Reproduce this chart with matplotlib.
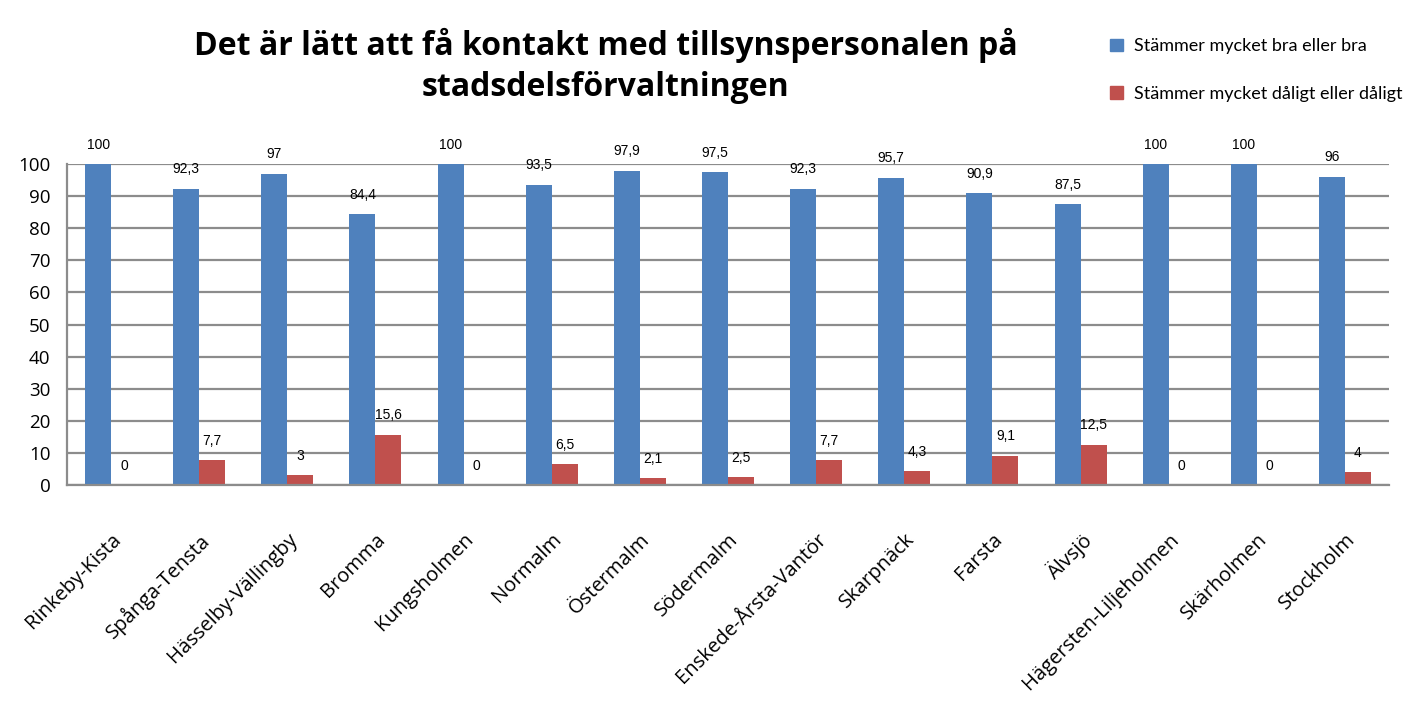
import matplotlib.pyplot as plt
from matplotlib.patches import Patch
import numpy as np

categories = ["Rinkeby-Kista", "Spånga-Tensta", "Hässelby-Vällingby", "Bromma",
              "Kungsholmen", "Normalm", "Östermalm", "Södermalm",
              "Enskede-Årsta-Vantör", "Skarpnäck", "Farsta", "Älvsjö",
              "Hägersten-Liljeholmen", "Skärholmen", "Stockholm"]
bra = [100, 92.3, 97, 84.4, 100, 93.5, 97.9, 97.5, 92.3, 95.7, 90.9, 87.5, 100, 100, 96]
daligt = [0, 7.7, 3, 15.6, 0, 6.5, 2.1, 2.5, 7.7, 4.3, 9.1, 12.5, 0, 0, 4]
series_names = ["Stämmer mycket bra eller bra", "Stämmer mycket dåligt eller dåligt"]

blue = "#4F81BD"
red = "#C0504D"
grey = "#8C8C8C"
label_font = "Open Sans"


def fmt(v):
    return f"{v:g}".replace(".", ",")


fig = plt.figure(figsize=(14.11, 7.11), dpi=100)
ax = fig.add_axes([67 / 1411, 1 - 485 / 711, (1389 - 67) / 1411, (485 - 164) / 711])

x = np.arange(len(categories))
w = 0.295
b1 = ax.bar(x - w / 2, bra, w, color=blue)
b2 = ax.bar(x + w / 2, daligt, w, color=red)

# value labels, comma as decimal sign
for bars, vals in [(b1, bra), (b2, daligt)]:
    for rect, v in zip(bars, vals):
        ax.annotate(fmt(v), (rect.get_x() + rect.get_width() / 2, v),
                    xytext=(0, 14), textcoords="offset points",
                    ha="center", va="center", fontsize=10,
                    family="Liberation Sans")

ax.set_xlim(-0.5, len(categories) - 0.5)
ax.set_ylim(0, 100)
ax.set_yticks(range(0, 101, 10))
ax.yaxis.grid(True, color=grey, linewidth=1.6)
ax.set_axisbelow(True)
for s in ["top", "right"]:
    ax.spines[s].set_visible(False)
for s in ["left", "bottom"]:
    ax.spines[s].set_color(grey)
    ax.spines[s].set_linewidth(1.6)
ax.tick_params(axis="both", length=0)
ax.tick_params(axis="y", pad=12, labelsize=13.5)
for t in ax.get_yticklabels():
    t.set_family(label_font)

ax.set_xticks(x)
ax.set_xticklabels(categories, rotation=45, ha="right", rotation_mode="anchor",
                   fontsize=14.5, family=label_font)
ax.tick_params(axis="x", pad=32)

fig.text(0.429, 0.907, "Det är lätt att få kontakt med tillsynspersonalen på\nstadsdelsförvaltningen",
         ha="center", va="center", fontsize=23, fontweight="bold",
         family=label_font, linespacing=1.3)

handles = [Patch(color=blue), Patch(color=red)]
fig.legend(handles, series_names, loc="upper left",
           bbox_to_anchor=(1094 / 1411, 1 - 22 / 711), frameon=False,
           prop={"family": "Lato", "size": 13},
           handlelength=0.7, handleheight=0.7, handletextpad=0.6,
           labelspacing=1.75)

fig.savefig("out.png", dpi=100)
